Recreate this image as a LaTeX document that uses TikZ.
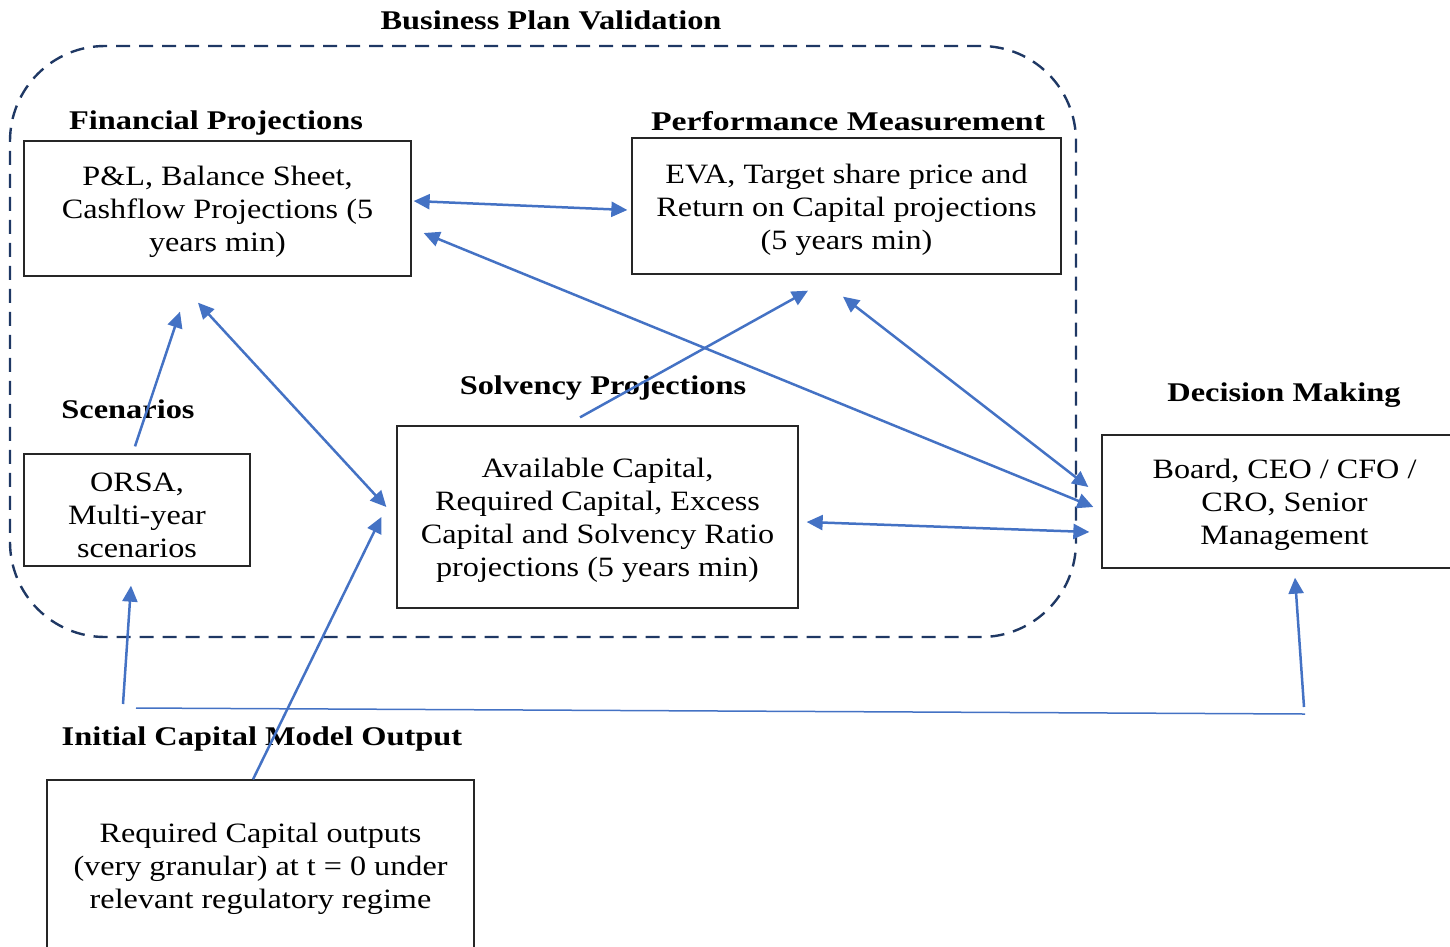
\documentclass[tikz,border=0pt]{standalone}
\usepackage{fontspec}
\setmainfont{Liberation Serif}
\newfontfamily\wideserif[FakeStretch=1.15]{Liberation Serif}
\newfontfamily\wideboldserif[FakeStretch=1.2]{Liberation Serif Bold}
\newfontfamily\widerboldserif[FakeStretch=1.25]{Liberation Serif Bold}
\usetikzlibrary{arrows.meta,calc}
\definecolor{arrowblue}{HTML}{4472C4}
\definecolor{navy}{HTML}{1F3864}
\begin{document}
\begin{tikzpicture}[x=1pt,y=-1pt,
 box/.style={draw=black!85,line width=1.3pt,rectangle,inner sep=0pt},
 boxtext/.style={align=center,inner sep=0pt,font=\wideserif\fontsize{28}{33}\selectfont},
 head/.style={font=\wideboldserif\fontsize{27}{32}\selectfont,inner sep=0pt},
 tip/.tip={Triangle[length=16pt,width=15pt]},
 conn/.style={draw=arrowblue,line width=2.5pt,-tip},
 biconn/.style={draw=arrowblue,line width=2.5pt,tip-tip},
 thin/.style={draw=arrowblue,line width=1.5pt},
]
\useasboundingbox (0,0) rectangle (1450,946);
% outer dashed frame
\node[draw=navy,line width=2.4pt,dash pattern=on 14pt off 9pt,rounded corners=95pt,
      minimum width=1066pt,minimum height=591pt,inner sep=0pt] (BPV) at (543,341.5) {};
% headings
\node[head] (tBPV) at (551,20) {Business Plan Validation};
\node[head] (tFP) at (216,123) {Financial Projections};
\node[head,font=\widerboldserif\fontsize{27}{32}\selectfont] (tPM) at (848,121) {Performance Measurement};
\node[head] (tSP) at (603,388) {Solvency Projections};
\node[head] (tSc) at (128,409) {Scenarios};
\node[head] (tDM) at (1284,395) {Decision Making};
\node[head] (tIC) at (262,739) {Initial Capital Model Output};
% boxes
\node[box,minimum width=387pt,minimum height=135pt] (FP) at (217.5,208.5) {};
\node[boxtext] (FPt) at ([shift={(0,3)}]FP.center)
  {P\&L, Balance Sheet,\\Cashflow Projections (5\\years min)};
\node[box,minimum width=429pt,minimum height=136pt] (PM) at (846.5,206) {};
\node[boxtext] (PMt) at ([shift={(0,4)}]PM.center)
  {EVA, Target share price and\\Return on Capital projections\\(5 years min)};
\node[box,minimum width=401pt,minimum height=182pt] (SP) at (597.5,517) {};
\node[boxtext] (SPt) at ([shift={(0,3.5)}]SP.center)
  {Available Capital,\\Required Capital, Excess\\Capital and Solvency Ratio\\projections (5 years min)};
\node[box,minimum width=226pt,minimum height=112pt] (Sc) at (137,510) {};
\node[boxtext] (Sct) at ([shift={(0,5)}]Sc.center)
  {ORSA,\\Multi-year\\scenarios};
\node[box,minimum width=365pt,minimum height=133pt] (DM) at (1284.5,501.5) {};
\node[boxtext] (DMt) at ([shift={(0,3.5)}]DM.center)
  {Board, CEO / CFO /\\CRO, Senior\\Management};
\node[box,minimum width=427pt,minimum height=180pt] (IC) at (260.5,870) {};
\node[boxtext] (ICt) at ([shift={(0,-1)}]IC.center)
  {Required Capital outputs\\(very granular) at t = 0 under\\relevant regulatory regime};
% connectors
\coordinate (cL) at (123,704);
\coordinate (hL) at (136,708);
\coordinate (hR) at (1305,714);
\coordinate (vB) at (1304,707);
\draw[biconn] ([shift={(2,-7.5)}]FP.east) -- ([shift={(-4,4)}]PM.west);
\draw[biconn] ([shift={(12,24.5)}]FP.east) -- ([shift={(-8,5.5)}]DM.west);
\draw[biconn] ([shift={(-3.5,22)}]PM.south) -- ([shift={(-13,-14.5)}]DM.west);
\draw[conn] ([shift={(-17.5,-8)}]SP.north) -- ([shift={(-38.5,16)}]PM.south);
\draw[conn] ([shift={(-2,-7)}]Sc.north) -- ([shift={(-37.5,35)}]FP.south);
\draw[biconn] ([shift={(-19.5,26)}]FP.south) -- ([shift={(-10,-10)}]SP.west);
\draw[conn] ([shift={(-7.5,0)}]IC.north) -- ([shift={(-15,0)}]SP.west);
\draw[conn] (cL) -- ([shift={(-6,19)}]Sc.south);
\draw[thin] (hL) -- (hR);
\draw[conn] (vB) -- ([shift={(10.5,9)}]DM.south);
\draw[biconn] ([shift={(8,5)}]SP.east) -- ([shift={(-12,30.5)}]DM.west);
\end{tikzpicture}
\end{document}
